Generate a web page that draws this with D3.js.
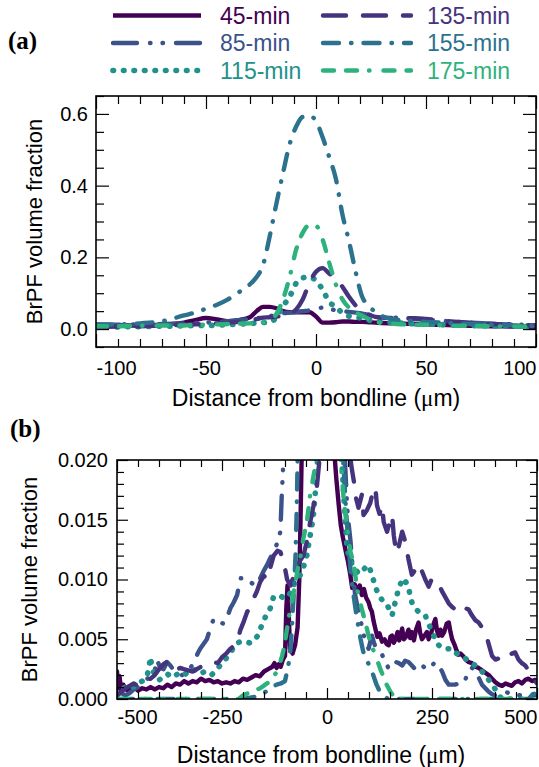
<!DOCTYPE html>
<html>
<head>
<meta charset="utf-8">
<script src="https://cdn.jsdelivr.net/npm/d3@7"></script>
<style>
  body { margin: 0; background: #fff; }
  svg { display: block; font-family: "Liberation Sans", Arial, sans-serif; }
</style>
</head>
<body>
<div id="chart"></div>
<script>
const width = 539;
const height = 767;

// series labels, in legend reading order (left column then right column)
const labels = ['45-min', '85-min', '115-min', '135-min', '155-min', '175-min'];

// panel (a): BrPF volume fraction vs distance (um)
const distA = [-100, -90, -80, -70, -60, -55, -50, -45, -40, -35, -30, -27, -24, -21, -18, -15, -12, -9, -6, -3,
  0, 3, 6, 9, 12, 15, 18, 21, 24, 27, 30, 35, 40, 45, 50, 60, 70, 80, 90, 100];
const a45 = [0.012, 0.010, 0.010, 0.012, 0.018, 0.025, 0.031, 0.027, 0.022, 0.025, 0.033, 0.050, 0.062, 0.062, 0.058, 0.050, 0.047, 0.047, 0.047, 0.047,
  0.035, 0.018, 0.018, 0.019, 0.021, 0.021, 0.020, 0.020, 0.019, 0.018, 0.017, 0.016, 0.015, 0.014, 0.013, 0.011, 0.009, 0.008, 0.007, 0.006];
const a85 = [0.012, 0.012, 0.013, 0.014, 0.016, 0.017, 0.018, 0.020, 0.022, 0.025, 0.028, 0.030, 0.033, 0.036, 0.040, 0.044, 0.046, 0.048, 0.050, 0.052,
  0.055, 0.060, 0.057, 0.052, 0.050, 0.048, 0.046, 0.043, 0.040, 0.037, 0.034, 0.032, 0.030, 0.028, 0.026, 0.022, 0.018, 0.015, 0.013, 0.011];
const a115 = [0.006, 0.006, 0.007, 0.008, 0.009, 0.010, 0.010, 0.011, 0.012, 0.014, 0.015, 0.017, 0.018, 0.020, 0.032, 0.064, 0.090, 0.128, 0.143, 0.145,
  0.135, 0.110, 0.076, 0.062, 0.045, 0.036, 0.033, 0.030, 0.025, 0.022, 0.020, 0.018, 0.016, 0.015, 0.014, 0.012, 0.010, 0.009, 0.008, 0.007];
const a135 = [0.006, 0.007, 0.008, 0.010, 0.012, 0.013, 0.015, 0.016, 0.018, 0.020, 0.024, 0.028, 0.032, 0.033, 0.035, 0.037, 0.042, 0.055, 0.083, 0.129,
  0.160, 0.170, 0.155, 0.142, 0.118, 0.090, 0.066, 0.047, 0.040, 0.034, 0.032, 0.031, 0.030, 0.030, 0.028, 0.022, 0.018, 0.014, 0.012, 0.010];
const a155 = [0.012, 0.013, 0.016, 0.022, 0.038, 0.046, 0.057, 0.068, 0.083, 0.103, 0.125, 0.145, 0.180, 0.260, 0.350, 0.435, 0.515, 0.565, 0.592, 0.595,
  0.580, 0.535, 0.480, 0.420, 0.320, 0.245, 0.160, 0.090, 0.065, 0.047, 0.036, 0.028, 0.024, 0.022, 0.020, 0.017, 0.014, 0.012, 0.010, 0.008];
const a175 = [0.008, 0.008, 0.009, 0.010, 0.010, 0.012, 0.012, 0.013, 0.014, 0.015, 0.016, 0.017, 0.019, 0.025, 0.042, 0.083, 0.145, 0.222, 0.269, 0.290,
  0.288, 0.250, 0.185, 0.125, 0.083, 0.060, 0.046, 0.037, 0.028, 0.020, 0.017, 0.015, 0.013, 0.012, 0.012, 0.010, 0.009, 0.008, 0.007, 0.006];

// panel (b): [distance um, fraction x 1e-3], zoomed to the tails
const b45 = [[-500, 2.3], [-497, 0.9], [-494, 1.9], [-490, 0.7], [-485, 1.2], [-480, 0.8], [-470, 0.7], [-460, 1.0], [-450, 0.7], [-440, 0.9],
  [-430, 0.8], [-420, 1.0], [-410, 0.8], [-400, 1.0], [-390, 0.9], [-380, 1.2], [-370, 1.0], [-360, 1.3], [-350, 1.2], [-340, 1.5],
  [-330, 1.3], [-320, 1.5], [-310, 1.4], [-300, 1.7], [-290, 1.5], [-280, 1.6], [-270, 1.4], [-260, 1.5], [-250, 1.3], [-240, 1.4],
  [-230, 1.3], [-220, 1.5], [-210, 1.4], [-200, 1.7], [-190, 1.6], [-180, 1.8], [-170, 2.0], [-160, 1.9], [-150, 2.3], [-140, 2.5],
  [-130, 2.7], [-125, 3.0], [-120, 2.6], [-115, 2.9], [-110, 2.7], [-105, 3.3], [-100, 3.6], [-97, 7.5], [-94, 9.5], [-91, 7.0],
  [-88, 4.2], [-82, 3.8], [-76, 4.5], [-70, 6.0], [-66, 10], [-63, 15], [-60, 21], [-50, 40], [15, 40], [18, 20.4],
  [22, 18.5], [28, 16.2], [33, 14.5], [38, 13.5], [45, 12.3], [50, 11.5], [55, 10.5], [60, 9.3], [66, 9.6], [72, 9.0],
  [78, 9.5], [83, 8.7], [88, 9.2], [93, 8.5], [99, 8.1], [103, 7.6], [107, 7.3], [111, 6.5], [115, 5.9], [120, 5.2],
  [125, 5.5], [131, 4.8], [137, 5.0], [142, 4.6], [147, 4.5], [151, 5.2], [155, 5.3], [159, 4.7], [163, 5.0], [168, 5.6],
  [172, 4.9], [176, 5.5], [179, 5.9], [183, 5.0], [188, 5.2], [194, 5.8], [198, 5.1], [202, 5.6], [207, 4.9], [212, 5.8],
  [218, 6.4], [222, 5.5], [226, 5.0], [232, 5.3], [238, 5.6], [242, 5.0], [248, 5.5], [253, 6.2], [258, 6.7], [262, 5.7],
  [266, 5.3], [270, 5.8], [274, 5.3], [279, 5.6], [285, 6.3], [290, 6.4], [294, 5.6], [298, 5.0], [303, 4.6], [308, 4.1],
  [313, 3.7], [318, 3.8], [324, 3.6], [330, 3.3], [337, 3.1], [345, 3.0], [353, 2.7], [361, 2.6], [369, 2.4], [377, 2.2],
  [385, 2.0], [393, 1.7], [401, 1.4], [409, 1.2], [417, 1.1], [425, 1.3], [432, 1.2], [440, 1.1], [448, 1.4], [456, 1.5],
  [464, 1.3], [472, 1.6], [480, 1.7], [488, 1.5], [496, 1.6], [500, 1.5]];
const b85 = [[-500, 0.4], [-490, 0.5], [-480, 0.3], [-470, 0.5], [-460, 0.8], [-450, 1.0], [-440, 1.3], [-430, 1.6], [-420, 2.0], [-410, 2.4],
  [-405, 3.3], [-397, 2.6], [-389, 2.5], [-381, 3.1], [-373, 2.8], [-365, 2.4], [-355, 2.2], [-345, 2.0], [-335, 2.3], [-325, 2.6],
  [-315, 3.2], [-308, 3.8], [-302, 4.2], [-294, 4.6], [-286, 5.0], [-278, 5.9], [-270, 6.7], [-262, 6.6], [-254, 6.4], [-246, 6.3],
  [-238, 6.8], [-230, 7.6], [-222, 8.1], [-214, 8.7], [-206, 10.1], [-198, 10.1], [-190, 10.0], [-183, 9.8], [-175, 9.6], [-167, 9.5],
  [-159, 10.1], [-151, 10.7], [-143, 11.2], [-135, 11.8], [-127, 12.3], [-119, 13.0], [-111, 14.0], [-108, 16.8], [-105, 19.0], [-100, 25],
  [-60, 45], [20, 45], [40, 22], [44, 19], [48, 16], [52, 14.5], [56, 13.2], [60, 11.5], [64, 9.8], [67, 8.7],
  [71, 8.0], [75, 7.3], [79, 6.7], [83, 6.1], [87, 5.4], [91, 4.8], [95, 4.5], [99, 4.2], [103, 4.8], [107, 5.3],
  [111, 4.8], [115, 4.4], [123, 4.0], [131, 3.7], [139, 3.2], [147, 2.5], [155, 2.8], [163, 3.1], [171, 3.0], [179, 2.8],
  [186, 3.2], [194, 3.1], [202, 2.8], [210, 2.5], [218, 2.9], [226, 2.8], [234, 2.6], [242, 2.5], [250, 2.8], [258, 3.1],
  [266, 2.8], [274, 2.3], [282, 1.6], [290, 1.2], [298, 1.2], [305, 1.2], [313, 1.3], [321, 1.2], [329, 1.6], [337, 2.3],
  [345, 2.6], [353, 2.5], [361, 1.8], [369, 1.2], [377, 0.9], [385, 0.6], [393, 0.4], [401, 0.3], [410, 0.4], [425, 0.6],
  [440, 0.4], [464, 0.3], [480, 0.3], [500, 0.3]];
const b115 = [[-500, 0.3], [-490, 0.8], [-480, 1.0], [-470, 1.2], [-460, 1.0], [-450, 1.3], [-440, 1.5], [-430, 1.8], [-424, 2.5], [-421, 3.5],
  [-416, 2.6], [-410, 2.0], [-400, 1.6], [-390, 1.8], [-380, 2.1], [-370, 1.8], [-360, 2.0], [-350, 2.2], [-340, 2.0], [-330, 2.3],
  [-318, 2.5], [-305, 2.1], [-290, 2.3], [-275, 2.0], [-262, 2.5], [-250, 3.0], [-240, 3.4], [-230, 3.9], [-220, 4.4], [-214, 4.7],
  [-205, 4.8], [-195, 4.8], [-185, 4.7], [-175, 4.8], [-165, 5.3], [-155, 6.2], [-145, 7.0], [-135, 7.6], [-127, 8.6], [-118, 8.6],
  [-110, 8.6], [-100, 8.4], [-90, 8.7], [-80, 9.5], [-70, 10.0], [-60, 10.6], [-52, 11.5], [-48, 12.0], [-42, 13.3], [-36, 14.5],
  [-32, 15.5], [-28, 17.2], [-24, 19.0], [-20, 22], [-10, 40], [25, 40], [33, 21], [36, 19.5], [40, 17], [44, 14.8],
  [48, 12.5], [56, 11.5], [67, 10.9], [75, 10.5], [83, 10.6], [91, 11.0], [99, 11.2], [107, 10.4], [115, 9.4], [123, 8.7],
  [131, 8.3], [139, 8.1], [147, 7.6], [155, 7.0], [163, 8.2], [171, 9.3], [177, 9.8], [183, 10.1], [189, 9.7], [194, 9.3],
  [202, 8.1], [210, 7.6], [218, 7.3], [226, 7.2], [234, 7.0], [242, 6.3], [250, 5.6], [258, 5.0], [266, 4.5], [274, 4.3],
  [282, 4.2], [290, 4.2], [298, 4.2], [305, 3.9], [313, 3.7], [321, 3.5], [329, 3.4], [337, 3.2], [345, 3.0], [353, 2.8],
  [361, 2.6], [369, 2.3], [377, 2.0], [385, 1.6], [393, 1.2], [401, 0.8], [409, 0.3], [417, 0], [500, 0]];
const b135 = [[-500, 0.3], [-490, 0.6], [-480, 0.9], [-470, 1.1], [-460, 1.3], [-450, 1.1], [-440, 1.4], [-430, 1.5], [-420, 1.7], [-410, 2.0],
  [-400, 2.5], [-390, 2.9], [-381, 3.1], [-370, 2.7], [-360, 2.4], [-350, 2.6], [-341, 2.5], [-330, 2.4], [-320, 2.3], [-310, 2.5],
  [-300, 2.7], [-286, 2.8], [-270, 3.1], [-260, 3.0], [-250, 3.5], [-240, 3.8], [-230, 4.2], [-220, 4.5], [-214, 4.8], [-206, 5.8],
  [-198, 6.5], [-190, 7.3], [-183, 7.6], [-175, 8.4], [-167, 9.0], [-159, 9.8], [-150, 10.3], [-143, 10.0], [-135, 11.0], [-127, 12.0],
  [-118, 12.4], [-111, 12.3], [-103, 11.5], [-95, 10.0], [-87, 9.5], [-80, 10.2], [-72, 11.0], [-64, 11.6], [-56, 12.0], [-48, 13.2],
  [-40, 14.8], [-32, 16.2], [-24, 17.8], [-18, 20], [-10, 40], [30, 40], [50, 22], [58, 19.5], [64, 18.2], [67, 17.1],
  [75, 16.0], [83, 17.1], [87, 15.4], [95, 15.8], [103, 16.4], [111, 17.6], [115, 17.7], [119, 16.2], [125, 15.5], [131, 16.2],
  [135, 14.8], [143, 14.0], [151, 15.0], [155, 15.4], [159, 13.7], [165, 12.2], [171, 12.8], [179, 14.0], [186, 13.2], [194, 11.7],
  [202, 10.4], [210, 10.8], [218, 11.3], [226, 10.7], [234, 10.0], [242, 9.4], [250, 10.1], [258, 9.8], [266, 9.6], [274, 9.0],
  [282, 8.5], [290, 8.0], [298, 7.7], [305, 7.5], [313, 7.3], [321, 7.7], [329, 7.6], [337, 7.5], [345, 7.0], [353, 6.6],
  [361, 6.4], [369, 6.0], [377, 5.6], [385, 4.6], [393, 3.6], [401, 3.3], [409, 3.4], [417, 3.2], [425, 3.5], [432, 3.6],
  [440, 3.8], [448, 3.9], [456, 3.3], [464, 3.0], [472, 2.8], [480, 2.4], [488, 2.0], [496, 1.5], [500, 1.3]];
const b155 = [[-500, 0], [-200, 0], [-170, 0.2], [-150, 0.5], [-135, 0.9], [-120, 1.2], [-110, 1.3], [-100, 1.5], [-92, 2.8], [-86, 4.5],
  [-82, 7.0], [-78, 9.5], [-75, 12], [-72, 16], [-70, 20], [-65, 28], [-40, 45], [20, 40], [35, 22], [40, 19],
  [45, 16], [52, 12.5], [58, 10], [64, 8.5], [70, 7.0], [75, 6.0], [80, 5.0], [86, 4.0], [92, 3.4], [98, 3.0],
  [104, 2.6], [110, 2.0], [118, 1.2], [126, 0.6], [135, 0.3], [145, 0], [480, 0], [490, 0.4], [500, 0.5]];
const b175 = [[-500, 0], [-210, 0], [-200, 0.3], [-180, 0.6], [-159, 0.9], [-147, 1.2], [-135, 1.5], [-127, 1.9], [-119, 2.3], [-111, 3.1],
  [-107, 3.6], [-103, 4.2], [-99, 5.0], [-95, 5.9], [-91, 6.8], [-87, 7.6], [-79, 9.0], [-71, 10.6], [-63, 12.0], [-56, 13.5],
  [-48, 14.8], [-40, 17.1], [-32, 18.7], [-24, 20.2], [-15, 30], [20, 30], [32, 20], [36, 18.4], [40, 16.6], [44, 15.4],
  [48, 14.3], [52, 13.3], [56, 12.3], [60, 11.8], [64, 11.2], [68, 10.2], [71, 9.3], [75, 8.7], [79, 8.1], [83, 7.5],
  [87, 7.0], [91, 6.4], [95, 5.9], [99, 5.3], [103, 4.8], [109, 4.2], [115, 3.7], [121, 3.1], [127, 2.5], [133, 2.0],
  [139, 1.4], [145, 1.0], [151, 0.6], [157, 0.3], [163, 0], [500, 0]];

// tick labels
const ticksAX = [-100, -50, 0, 50, 100];
const ticksAY = [0, 0.2, 0.4, 0.6];
const ticksBX = [-500, -250, 0, 250, 500];
const ticksBY = [0, 5, 10, 15, 20];

// styles, same order as labels
const colors = ['#440154', '#3b528b', '#21918c', '#46337e', '#2c728e', '#2db27d'];
const dashes = [null, '24 13 0.5 12 0.5 13', '0.5 10', '23 17', '16 12 0.5 12', '11 12 11 12 0.5 14'];
const widths = [4.4, 4.4, 5.6, 4.4, 4.4, 4.4];

const svg = d3.select('#chart').append('svg')
  .attr('width', width)
  .attr('height', height);

svg.append('rect').attr('width', width).attr('height', height).attr('fill', '#fff');

function drawPanel(cfg) {
  const x = d3.scaleLinear().domain(cfg.xDomain).range([cfg.left, cfg.right]);
  const y = d3.scaleLinear().domain(cfg.yDomain).range([cfg.bottom, cfg.top]);
  const g = svg.append('g');

  const clipId = 'clip-' + cfg.id;
  g.append('clipPath').attr('id', clipId)
    .append('rect')
      .attr('x', cfg.left).attr('y', cfg.top)
      .attr('width', cfg.right - cfg.left).attr('height', cfg.bottom - cfg.top);

  const line = d3.line()
    .x(d => x(d[0]))
    .y(d => y(d[1]))
    .curve(cfg.curve);

  g.append('g').attr('clip-path', `url(#${clipId})`)
    .selectAll('path')
    .data(cfg.series)
    .join('path')
      .attr('d', d => line(d))
      .attr('fill', 'none')
      .attr('stroke', (d, i) => colors[i])
      .attr('stroke-width', (d, i) => widths[i])
      .attr('stroke-linecap', 'round')
      .attr('stroke-linejoin', 'round')
      .attr('stroke-dasharray', (d, i) => dashes[i]);

  const tidy = a => a.call(s => s.select('.domain').remove())
    .call(s => s.selectAll('line').attr('stroke', '#000').attr('stroke-width', 1.2));

  // bottom / left with labels, top / right mirrored
  const xb = g.append('g').attr('transform', `translate(0,${cfg.bottom})`)
    .call(d3.axisBottom(x).tickValues(cfg.xTicks).tickSize(-cfg.major).tickPadding(cfg.xPad).tickFormat(d => String(d)))
    .call(tidy);
  xb.selectAll('text')
    .attr('fill', '#000')
    .attr('font-size', 20)
    .attr('text-anchor', (d, i, n) => i === 0 ? 'start' : (i === n.length - 1 ? 'end' : 'middle'));

  g.append('g').attr('transform', `translate(0,${cfg.bottom})`)
    .call(d3.axisBottom(x).tickValues(cfg.xMinor).tickSize(-cfg.minor).tickFormat(''))
    .call(tidy);
  g.append('g').attr('transform', `translate(0,${cfg.top})`)
    .call(d3.axisTop(x).tickValues(cfg.xTicks).tickSize(-cfg.major).tickFormat(''))
    .call(tidy);
  g.append('g').attr('transform', `translate(0,${cfg.top})`)
    .call(d3.axisTop(x).tickValues(cfg.xMinor).tickSize(-cfg.minor).tickFormat(''))
    .call(tidy);

  const yl = g.append('g').attr('transform', `translate(${cfg.left},0)`)
    .call(d3.axisLeft(y).tickValues(cfg.yTicks).tickSize(-cfg.major).tickPadding(cfg.yPad).tickFormat(cfg.yFormat))
    .call(tidy);
  yl.selectAll('text').attr('fill', '#000').attr('font-size', 20);

  g.append('g').attr('transform', `translate(${cfg.left},0)`)
    .call(d3.axisLeft(y).tickValues(cfg.yMinor).tickSize(-cfg.minor).tickFormat(''))
    .call(tidy);
  g.append('g').attr('transform', `translate(${cfg.right},0)`)
    .call(d3.axisRight(y).tickValues(cfg.yTicks).tickSize(-cfg.major).tickFormat(''))
    .call(tidy);
  g.append('g').attr('transform', `translate(${cfg.right},0)`)
    .call(d3.axisRight(y).tickValues(cfg.yMinor).tickSize(-cfg.minor).tickFormat(''))
    .call(tidy);

  g.append('rect')
    .attr('x', cfg.left).attr('y', cfg.top)
    .attr('width', cfg.right - cfg.left).attr('height', cfg.bottom - cfg.top)
    .attr('fill', 'none').attr('stroke', '#000').attr('stroke-width', 1.6);

  // axis titles
  g.append('text')
    .attr('transform', `translate(${cfg.yTitleX},${(cfg.top + cfg.bottom) / 2}) rotate(-90)`)
    .attr('text-anchor', 'middle')
    .attr('font-size', 22)
    .text('BrPF volume fraction');

  const xt = g.append('text')
    .attr('x', cfg.xTitleX).attr('y', cfg.xTitleY)
    .attr('text-anchor', 'middle')
    .attr('font-size', 23);
  xt.append('tspan').text('Distance from bondline (');
  xt.append('tspan').attr('font-family', '"Liberation Serif", serif').text('\u03bc');
  xt.append('tspan').text('m)');

  g.append('text')
    .attr('x', cfg.tagX).attr('y', cfg.tagY)
    .attr('font-family', '"Liberation Serif", "Times New Roman", serif')
    .attr('font-weight', 'bold')
    .attr('font-size', 25)
    .text(cfg.tag);
}

drawPanel({
  id: 'a', tag: '(a)', tagX: 8, tagY: 49,
  left: 96, right: 536, top: 96, bottom: 347,
  xDomain: [-100, 100], yDomain: [-0.05, 0.65],
  xTicks: ticksAX, xMinor: d3.range(-90, 100, 10).filter(v => v % 50 !== 0),
  yTicks: ticksAY, yMinor: d3.range(-0.05, 0.66, 0.05).filter(v => Math.abs(v * 10 - Math.round(v * 10)) > 0.01 || Math.round(v * 10) % 2 !== 0),
  yFormat: d3.format('.1f'),
  major: 13, minor: 8, xPad: 14, yPad: 8,
  yTitleX: 42, xTitleX: 316, xTitleY: 406,
  curve: d3.curveMonotoneX,
  series: [a45, a85, a115, a135, a155, a175].map(vals => vals.map((v, i) => [distA[i], v]))
});

drawPanel({
  id: 'b', tag: '(b)', tagX: 10, tagY: 437,
  left: 117, right: 537, top: 460, bottom: 699,
  xDomain: [-500, 500], yDomain: [0, 20],
  xTicks: ticksBX, xMinor: d3.range(-450, 500, 50).filter(v => v % 250 !== 0),
  yTicks: ticksBY, yMinor: d3.range(1, 20, 1).filter(v => v % 5 !== 0),
  yFormat: d => (d / 1000).toFixed(3),
  major: 11, minor: 7, xPad: 11, yPad: 9,
  yTitleX: 37, xTitleX: 321, xTitleY: 763,
  curve: d3.curveLinear,
  series: [b45, b85, b115, b135, b155, b175]
});

// legend: two columns of three
const legend = svg.append('g');
const legendItems = legend.selectAll('g')
  .data(labels)
  .join('g')
    .attr('transform', (d, i) => `translate(${i < 3 ? 113 : 323},${[15.5, 43, 70.5][i % 3]})`);

legendItems.append('line')
  .attr('x1', 0).attr('x2', 88)
  .attr('stroke', (d, i) => colors[i])
  .attr('stroke-width', (d, i) => widths[i])
  .attr('stroke-linecap', (d, i) => i === 0 ? 'butt' : 'round')
  .attr('stroke-dasharray', (d, i) => dashes[i]);

legendItems.append('text')
  .attr('x', (d, i) => i < 3 ? 107 : 104)
  .attr('y', 8)
  .attr('font-size', 23)
  .attr('fill', (d, i) => colors[i])
  .text(d => d);
</script>
</body>
</html>
